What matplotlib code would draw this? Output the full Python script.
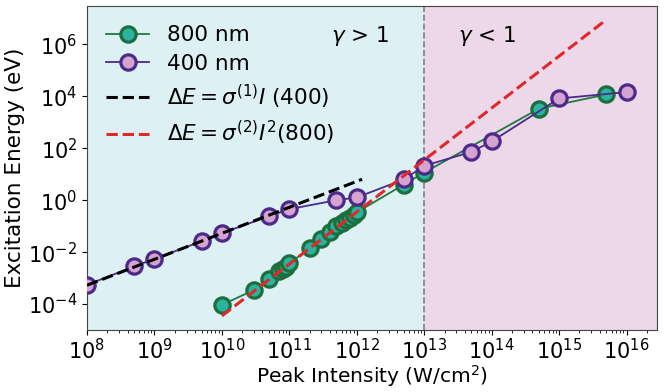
import matplotlib
matplotlib.use("Agg")
import matplotlib.pyplot as plt
import numpy as np

# 800 nm data
I_800 = [1e10, 3e10, 5e10, 7e10, 8e10, 9e10, 1e11, 2e11, 3e11, 4e11, 5e11, 6e11, 7e11, 8e11, 9e11, 1e12,
         5e12, 1e13, 5e14, 5e15]
E_800 = [9.3e-5, 3.5e-4, 9.3e-4, 1.8e-3, 2.2e-3, 2.75e-3, 3.7e-3, 1.4e-2, 3.1e-2, 5.9e-2, 0.1, 0.13, 0.166,
         0.21, 0.27, 0.34, 4.0, 11.5, 3300, 11700]

# 400 nm data
I_400 = [1e8, 5e8, 1e9, 5e9, 1e10, 5e10, 1e11, 5e11, 1e12, 5e12, 1e13, 5e13, 1e14, 1e15, 1e16]
E_400 = [5.5e-4, 2.8e-3, 5.5e-3, 2.6e-2, 5.4e-2, 0.24, 0.45, 1.0, 1.27, 6.3, 21, 72, 182, 8200, 14400]

# fit lines
I_fit1 = [1e8, 1.2e12]
sigma1 = 5.3e-12
I_fit2 = [1e10, 5e15]
sigma2 = 3.5e-25

gamma_boundary = 1e13

plt.rcParams['font.family'] = ['DejaVu Sans']
fig = plt.figure(figsize=(6.64, 3.92), dpi=100)
ax = fig.add_axes([0.131, 0.158, 0.858, 0.827])

xmin, xmax = 1e8, 2.8e16
ymin, ymax = 1e-5, 3e7
ax.axvspan(xmin, gamma_boundary, color='#ddf0f4', zorder=0)
ax.axvspan(gamma_boundary, xmax, color='#ecd8e8', zorder=0)
ax.axvline(gamma_boundary, color='gray', ls='--', lw=1.2, zorder=1)

ax.plot(I_800, E_800, '-o', color='#1e7a40', lw=1.3, ms=11, mfc='#2ab3a0', mec='#1c6e3c', mew=2.3,
        label='800 nm', zorder=3)
ax.plot(I_400, E_400, '-o', color='#4b2a8a', lw=1.3, ms=11, mfc='#d6a2d0', mec='#4b2a8a', mew=2.3,
        label='400 nm', zorder=4)

x1 = np.array(I_fit1)
ax.plot(x1, sigma1 * x1, '--', color='black', lw=2.2, label=r'$\Delta E = \sigma^{(1)}I$ (400)', zorder=5)
x2 = np.array(I_fit2)
ax.plot(x2, sigma2 * x2**2, '--', color='#e0282a', lw=2.2, label=r'$\Delta E = \sigma^{(2)}I^2$(800)', zorder=5)

ax.set_xscale('log')
ax.set_yscale('log')
ax.set_xlim(xmin, xmax)
ax.set_ylim(ymin, ymax)
ax.set_xticks([1e8, 1e9, 1e10, 1e11, 1e12, 1e13, 1e14, 1e15, 1e16])
ax.set_yticks([1e-4, 1e-2, 1e0, 1e2, 1e4, 1e6])
ax.tick_params(axis='both', labelsize=15)
ax.tick_params(axis='x', pad=2)
ax.set_xlabel(r'Peak Intensity (W/cm$^2$)', fontsize=14.5, labelpad=0)
ax.set_ylabel('Excitation Energy (eV)', fontsize=15.5, labelpad=2)

ax.text(1.1e12, 2e6, r'$\gamma$ > 1', fontsize=15.5, ha='center', va='center')
ax.text(8.5e13, 2e6, r'$\gamma$ < 1', fontsize=15.5, ha='center', va='center')

ax.legend(loc='upper left', frameon=False, fontsize=15.5, handlelength=2.0, borderaxespad=0.5,
          labelspacing=0.4, handletextpad=0.8)

for s in ax.spines.values():
    s.set_color('#444444')

fig.savefig('out.png', dpi=100)
